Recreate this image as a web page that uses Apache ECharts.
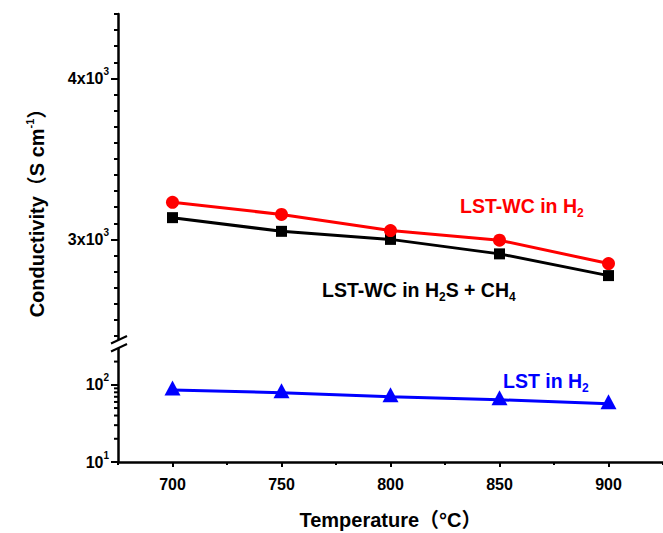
<!DOCTYPE html>
<html lang="en">
<head>
<meta charset="UTF-8">
<title>Conductivity vs temperature</title>
<script src="https://cdn.jsdelivr.net/npm/echarts@6/dist/echarts.min.js"></script>
<style>
  html, body { margin: 0; padding: 0; background: #fff; }
  #chart { width: 663px; height: 533px; }
</style>
</head>
<body>
<div id="chart"></div>
<script>
// data
var temps = [700, 750, 800, 850, 900];
var wcInH2 = [3230, 3155, 3055, 2995, 2850];
var wcInH2sCh4 = [3135, 3050, 3000, 2910, 2775];
var lstInH2 = [86, 79, 70, 64, 57];

// ticks
var xMajor = [700, 750, 800, 850, 900];
var xMinor = [675, 725, 775, 825, 875, 925];
var upperMajor = [3000, 4000];
var upperMinor = [2400, 2500, 2600, 2700, 2800, 2900, 3100, 3200, 3300, 3400, 3500,
                  3600, 3700, 3800, 3900, 4100, 4200, 4300, 4400];
var logMinor = [20, 30, 40, 50, 60, 70, 80, 90, 200];

var FONT = "'Liberation Sans', Arial, 'Noto Sans CJK SC', sans-serif";

function pairs(vals) {
    return temps.map(function (t, i) { return [t, vals[i]]; });
}

var chart = echarts.init(document.getElementById('chart'), null, {renderer: 'svg'});

var supRich = {
    b: {fontFamily: FONT, fontWeight: 'bold', fontSize: 16, color: '#000', lineHeight: 24},
    s: {fontFamily: FONT, fontWeight: 'bold', fontSize: 10, color: '#000', verticalAlign: 'top'}
};

var option = {
    animation: false,
    backgroundColor: '#fff',
    grid: [
        {left: 118, right: -2, top: 14, height: 326},
        {left: 118, right: -2, top: 348, height: 114}
    ],
    xAxis: [
        {gridIndex: 0, type: 'value', min: 675, max: 925, show: false},
        {
            gridIndex: 1, type: 'value', min: 675, max: 925, position: 'bottom',
            axisLine: {lineStyle: {color: '#000', width: 2.5}},
            axisTick: {customValues: xMajor, length: 5, lineStyle: {color: '#000', width: 2}},
            axisLabel: {
                customValues: xMajor, margin: 14,
                fontFamily: FONT, fontWeight: 'bold', fontSize: 16, color: '#000'
            },
            splitLine: {show: false},
            name: 'Temperature（°C）', nameLocation: 'middle', nameGap: 48,
            nameTextStyle: {fontFamily: FONT, fontWeight: 'bold', fontSize: 20, color: '#000'}
        },
        {
            gridIndex: 1, type: 'value', min: 675, max: 925, position: 'bottom',
            axisLine: {show: false},
            axisTick: {customValues: xMinor, length: 3, lineStyle: {color: '#000', width: 2}},
            axisLabel: {show: false},
            splitLine: {show: false}
        }
    ],
    yAxis: [
        {
            gridIndex: 0, type: 'value', min: 2375, max: 4400, position: 'left',
            axisLine: {show: true, lineStyle: {color: '#000', width: 2.5}},
            axisTick: {show: true, customValues: upperMajor, length: 7, lineStyle: {color: '#000', width: 2}},
            axisLabel: {
                customValues: upperMajor, margin: 9,
                formatter: function (v) { return '{b|' + (v / 1000) + 'x10}{s|3}'; },
                rich: supRich
            },
            splitLine: {show: false}
        },
        {
            gridIndex: 0, type: 'value', min: 2375, max: 4400, position: 'left',
            axisLine: {show: false},
            axisTick: {show: true, customValues: upperMinor, length: 4, lineStyle: {color: '#000', width: 2}},
            axisLabel: {show: false},
            splitLine: {show: false}
        },
        {
            gridIndex: 1, type: 'log', logBase: 10, min: 10, max: 300, position: 'left',
            axisLine: {show: true, lineStyle: {color: '#000', width: 2.5}},
            axisTick: {show: true, length: 7, lineStyle: {color: '#000', width: 2}},
            axisLabel: {
                margin: 9, showMaxLabel: false,
                formatter: function (v) {
                    var p = Math.log10(v);
                    if (Math.abs(p - Math.round(p)) > 1e-6) return '';
                    return '{b|10}{s|' + Math.round(p) + '}';
                },
                rich: supRich
            },
            splitLine: {show: false}
        }
    ],
    series: [
        {
            name: 'LST-WC in H2S + CH4', type: 'line', xAxisIndex: 0, yAxisIndex: 0,
            data: pairs(wcInH2sCh4),
            symbol: 'rect', symbolSize: 11,
            lineStyle: {color: '#000', width: 3},
            itemStyle: {color: '#000'}
        },
        {
            name: 'LST-WC in H2', type: 'line', xAxisIndex: 0, yAxisIndex: 0,
            data: pairs(wcInH2),
            symbol: 'circle', symbolSize: 13,
            lineStyle: {color: '#ff0000', width: 3},
            itemStyle: {color: '#ff0000'}
        },
        {
            name: 'LST in H2', type: 'line', xAxisIndex: 1, yAxisIndex: 2,
            data: pairs(lstInH2),
            symbol: 'triangle', symbolSize: [16, 15], symbolOffset: [0, -2],
            lineStyle: {color: '#0000ff', width: 3},
            itemStyle: {color: '#0000ff'}
        }
    ]
};
chart.setOption(option);

// extra decoration: log minor ticks, axis break, titles and series notes
var ax = chart.convertToPixel({xAxisIndex: 1}, 675);
var gfx = [];
logMinor.forEach(function (v) {
    var y = chart.convertToPixel({yAxisIndex: 2}, v);
    gfx.push({type: 'line', shape: {x1: ax - 4, y1: y, x2: ax, y2: y},
              style: {stroke: '#000', lineWidth: 2}, z: 10});
});
var yTop = chart.convertToPixel({yAxisIndex: 0}, 2375);
var yBot = chart.convertToPixel({yAxisIndex: 2}, 300);
var yMid = (yTop + yBot) / 2;
gfx.push({type: 'rect', shape: {x: ax - 3, y: yMid - 4, width: 6, height: 8},
          style: {fill: '#fff'}, z: 11});
gfx.push({type: 'line', shape: {x1: ax - 7, y1: yMid - 0.5, x2: ax + 9, y2: yMid - 8},
          style: {stroke: '#000', lineWidth: 2}, z: 12});
gfx.push({type: 'line', shape: {x1: ax - 7, y1: yMid + 7.5, x2: ax + 9, y2: yMid},
          style: {stroke: '#000', lineWidth: 2}, z: 12});

function note(left, top, text, color) {
    return {
        type: 'text', left: left, top: top, z: 20,
        style: {
            text: text,
            fill: color,
            rich: {
                m: {fontFamily: FONT, fontWeight: 'bold', fontSize: 19.5, fill: color, lineHeight: 26},
                d: {fontFamily: FONT, fontWeight: 'bold', fontSize: 12, fill: color, verticalAlign: 'bottom'}
            }
        }
    };
}
gfx.push(note(460, 196, '{m|LST-WC in H}{d|2}', '#ff0000'));
gfx.push(note(322, 280, '{m|LST-WC in H}{d|2}{m|S + CH}{d|4}', '#000000'));
gfx.push(note(503, 371, '{m|LST in H}{d|2}', '#0000ff'));

gfx.push({
    type: 'text', x: 37, y: 208, rotation: Math.PI / 2, z: 20,
    style: {
        text: '{m|Conductivity（S cm}{u|-1}{m|）}',
        align: 'center', verticalAlign: 'middle',
        rich: {
            m: {fontFamily: FONT, fontWeight: 'bold', fontSize: 20, fill: '#000', lineHeight: 26},
            u: {fontFamily: FONT, fontWeight: 'bold', fontSize: 11, fill: '#000', verticalAlign: 'top'}
        }
    }
});
chart.setOption({graphic: gfx});
</script>
</body>
</html>
